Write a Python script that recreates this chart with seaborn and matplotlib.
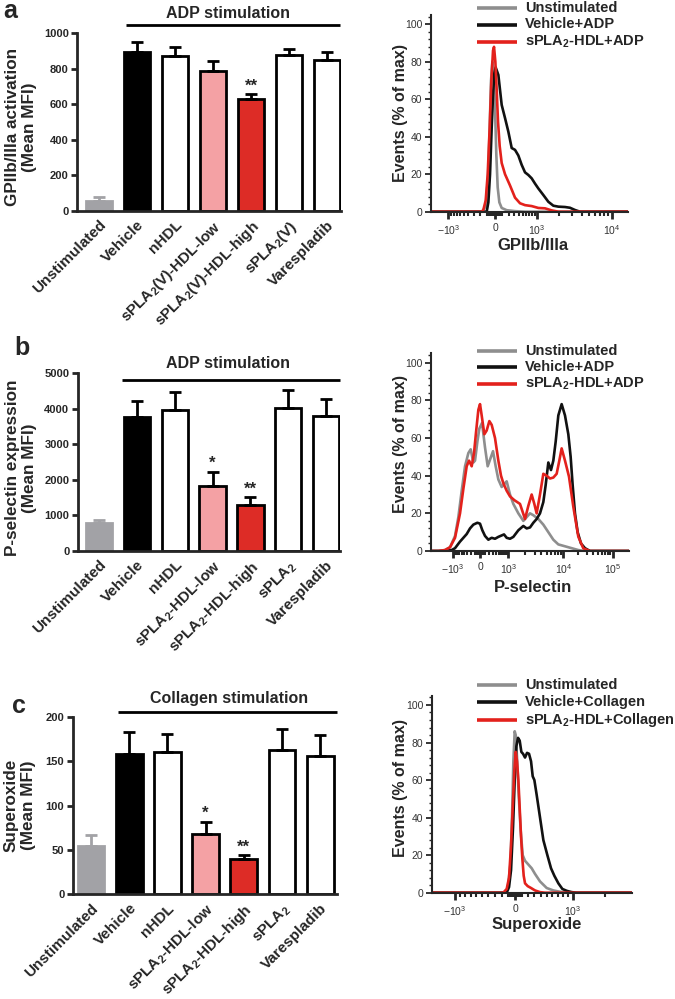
import numpy as np
import pandas as pd
import matplotlib
matplotlib.use("Agg")
import matplotlib.pyplot as plt
import seaborn as sns
from matplotlib.lines import Line2D
from matplotlib.ticker import MultipleLocator, FixedLocator

# ---------------- bar chart data ----------------
cats_a = ["Unstimulated", "Vehicle", "nHDL", r"sPLA$_\mathbf{2}$(V)-HDL-low",
          r"sPLA$_\mathbf{2}$(V)-HDL-high", r"sPLA$_\mathbf{2}$(V)", "Varespladib"]
cats_bc = ["Unstimulated", "Vehicle", "nHDL", r"sPLA$_\mathbf{2}$-HDL-low",
           r"sPLA$_\mathbf{2}$-HDL-high", r"sPLA$_\mathbf{2}$", "Varespladib"]
gp_mean = [58, 895, 868, 787, 627, 877, 846]
gp_err = [18, 57, 55, 55, 30, 31, 47]
ps_mean = [798, 3770, 3975, 1824, 1297, 4022, 3806]
ps_err = [76, 459, 499, 412, 216, 517, 470]
so_mean = [54.4, 157.6, 160, 68, 39.8, 162.5, 156]
so_err = [12.6, 25.4, 20.5, 13.7, 4.2, 23.5, 23]
sig_a = ["", "", "", "", "**", "", ""]
sig_bc = ["", "", "", "*", "**", "", ""]

bar_fill = ["#a2a2a6", "#000000", "#ffffff", "#f4a1a4", "#dd2c26", "#ffffff", "#ffffff"]
bar_edge = ["#a2a2a6", "#000000", "#000000", "#000000", "#000000", "#000000", "#000000"]

# ---------------- histogram data (x in display channels, y in % of max) ----------------
# panel a : GPIIb/IIIa
a_gray_x = [-193, -38, -28, -21, -16, -12, -8, -4, 0, 4, 8, 13, 20, 35, 60, 90, 399]
a_gray_y = [0, 0, 3, 18, 45, 70, 80, 75, 55, 30, 13, 5, 2, 0.8, 0.3, 0, 0]
a_black_x = [-193, -25, -20, -15, -10, -6, -2, 2, 10, 20, 30, 40, 50, 60, 70, 80, 90, 100,
             110, 120, 130, 145, 160, 175, 190, 210, 225, 240, 255, 399]
a_black_y = [0, 0, 5, 20, 45, 62, 74, 77, 73, 57, 50, 42.7, 34, 33, 30, 25, 21, 19.6,
             17.8, 15, 12.4, 8.9, 5.3, 3.2, 2.7, 2.5, 2.1, 0.9, 0, 0]
a_red_x = [-193, -40, -35, -28, -22, -16, -11, -6, -3, 1, 5, 9, 14, 20, 30, 45, 60, 75, 90,
           110, 130, 150, 170, 190, 399]
a_red_y = [0, 0, 1, 6, 20, 45, 70, 86, 88, 80, 65, 48, 35, 26, 20, 14, 7.5, 4.5, 3.5,
           3, 2, 1.8, 0.7, 0, 0]

# panel b : P-selectin
b_gray_x = [-148, -125, -105, -90, -75, -65, -55, -45, -35, -28, -20, -15, -8, -2, 6, 15, 23,
            31, 39, 47, 55, 65, 75, 80, 90, 100, 115, 130, 140, 150, 160, 175, 190, 205,
            220, 235, 255, 275, 295, 315, 448]
b_gray_y = [0, 0, 0.5, 2, 8, 18, 32, 45, 52, 54, 47, 48, 58, 65, 68, 55, 45,
            49, 53, 45, 38, 34, 36, 37, 30, 25, 20, 16, 18, 20, 19, 17, 14, 10,
            6, 3.5, 2.5, 1.5, 0.5, 0, 0]
b_black_x = [-148, -105, -85, -75, -60, -50, -40, -30, -20, -8, 0, 7, 15, 25, 35, 45, 55, 72,
             80, 90, 100, 115, 130, 140, 150, 160, 170, 180, 190, 197, 205, 213, 220, 227,
             235, 245, 255, 265, 272, 278, 285, 293, 303, 315, 330, 448]
b_black_y = [0, 0, 0.5, 1.5, 5, 7, 9, 12, 14, 15, 14.5, 11, 8, 6, 7, 6.5, 7.5, 8.8,
             7, 6.5, 7.5, 11, 13.3, 12, 12.5, 15, 17, 20, 26, 35, 47, 43, 48, 58,
             72, 78, 72, 62, 50, 35, 20, 10, 4, 1.5, 0, 0]
b_red_x = [-148, -125, -105, -90, -75, -60, -50, -40, -33, -25, -18, -12, -5, 0, 5, 13, 20,
           28, 35, 45, 55, 63, 70, 80, 90, 103, 120, 135, 145, 155, 163, 170, 180, 190,
           200, 210, 220, 230, 238, 245, 255, 267, 280, 295, 310, 330, 448]
b_red_y = [0, 0, 0.5, 2, 7, 20, 33, 45, 48, 45, 52, 63, 75, 78, 72, 62, 64,
           69, 67, 60, 48, 40, 36, 32, 29, 27, 25, 17, 24, 30, 25, 20, 30, 41,
           40, 38.5, 39, 41, 48, 54.5, 48, 39.5, 23.5, 7.6, 1.4, 0, 0]

# panel c : Superoxide
c_gray_x = [-250, -35, -22, -14, -9, -5, -1, 2, 6, 11, 17, 23, 30, 40, 50, 60, 75, 95,
            115, 135, 155, 350]
c_gray_y = [0, 0, 2, 15, 40, 70, 86, 84, 72, 52, 33, 20, 17, 15, 13, 10, 6, 2.5,
            1.2, 0.5, 0, 0]
c_black_x = [-250, -25, -18, -12, -6, -1, 4, 9, 14, 19, 24, 30, 36, 42, 48, 53, 58, 65,
             75, 85, 97, 108, 118, 130, 142, 155, 170, 185, 350]
c_black_y = [0, 0, 3, 12, 35, 60, 78, 82.5, 81, 75, 74, 72, 74.5, 74, 70, 62, 60, 52,
             40, 28, 20, 13, 9, 5, 2, 1, 0.3, 0, 0]
c_red_x = [-250, -35, -25, -18, -12, -7, -2, 2, 6, 10, 14, 18, 22, 26, 30, 38, 48, 60,
           75, 90, 350]
c_red_y = [0, 0, 2, 8, 25, 45, 65, 75, 70, 60, 45, 30, 18, 9, 5, 3.5, 2.5, 1.2,
           0.3, 0, 0]

# axis tick positions (display channel of each decade)
a_major = {-1000: -140, 0: 0, 1000: 125, 10000: 350}
b_major = {-1000: -82, 0: 0, 1000: 85, 10000: 250, 100000: 398}
c_major = {-1000: -180, 0: 0, 1000: 173}
major_labels = {-1000: r"$-10^{3}$", 0: "0", 1000: r"$10^{3}$",
                10000: r"$10^{4}$", 100000: r"$10^{5}$"}

leg_adp = ["Unstimulated", "Vehicle+ADP", r"sPLA$_\mathbf{2}$-HDL+ADP"]
leg_col = ["Unstimulated", "Vehicle+Collagen", r"sPLA$_\mathbf{2}$-HDL+Collagen"]

C_GRAY, C_BLACK, C_RED = "#8e8e8e", "#111111", "#e3211c"

# ---------------- style ----------------
sns.set_style("ticks")
plt.rcParams["font.family"] = ["Liberation Sans", "DejaVu Sans"]
plt.rcParams["mathtext.fontset"] = "custom"
plt.rcParams["mathtext.rm"] = "Liberation Sans"
plt.rcParams["mathtext.bf"] = "Liberation Sans:bold"
plt.rcParams["mathtext.it"] = "Liberation Sans:italic"

W, H = 675, 999
fig = plt.figure(figsize=(W / 100, H / 100), dpi=100)


def px_axes(x0, x1, ytop, ybot):
    return fig.add_axes([x0 / W, 1 - ybot / H, (x1 - x0) / W, (ybot - ytop) / H])


def ftext(x, y, s, **kw):
    fig.text(x / W, 1 - y / H, s, **kw)


def fline(x0, x1, y, lw=2, color="black"):
    fig.add_artist(Line2D([x0 / W, x1 / W], [1 - y / H, 1 - y / H],
                          color=color, lw=lw, transform=fig.transFigure,
                          solid_capstyle="butt"))


def bar_panel(ax, cats, means, errs, sig, ymax, ystep, xlim):
    df = pd.DataFrame({"cat": cats, "val": means})
    sns.barplot(data=df, x="cat", y="val", hue="cat", palette=bar_fill, legend=False,
                width=0.7, saturation=1, linewidth=2, edgecolor="black", ax=ax)
    for p, ec in zip(ax.patches, bar_edge):
        p.set_edgecolor(ec)
    for i, (m, e) in enumerate(zip(means, errs)):
        ax.errorbar(i, m, yerr=[[0], [e]], fmt="none", ecolor=bar_edge[i],
                    elinewidth=2, capsize=4, capthick=2, zorder=3)
        if sig[i]:
            ax.annotate(sig[i], (i, m + e), xytext=(0, 0.5), textcoords="offset points",
                        ha="center", va="bottom", fontsize=12, fontweight="bold")
    ax.set_xlim(*xlim)
    ax.set_ylim(0, ymax)
    ax.yaxis.set_major_locator(MultipleLocator(ystep))
    ax.set_xticks(range(len(cats)))
    ax.set_xticklabels(cats, rotation=45, ha="right", va="top", rotation_mode="anchor",
                       fontsize=11, fontweight="bold")
    ax.set_xlabel("")
    ax.set_ylabel("")
    ax.tick_params(axis="x", length=0, pad=5)
    ax.tick_params(axis="y", length=4, width=2, labelsize=8, pad=2)
    for lbl in ax.get_yticklabels():
        lbl.set_fontweight("bold")
    for s in ["top", "right"]:
        ax.spines[s].set_visible(False)
    for s in ["left", "bottom"]:
        ax.spines[s].set_linewidth(2)


def minor_positions(major, w, lo, hi, decade_w=None, max_val=None):
    pos = []
    s1 = np.arcsinh(1000 / w)
    for m in list(range(10, 100, 10)) + list(range(100, 1000, 100)):
        f = np.arcsinh(m / w) / s1
        pos.append(major[1000] * f)
        pos.append(major[-1000] * f)
    dec = sorted(v for v in major if v >= 1000)
    for d0, d1 in zip(dec[:-1], dec[1:]):
        for k in range(2, 10):
            pos.append(major[d0] + (major[d1] - major[d0]) * np.log10(k))
    if decade_w is not None:
        for k in range(2, 10):
            if max_val is None or k * dec[-1] <= max_val:
                pos.append(major[dec[-1]] + decade_w * np.log10(k))
    return [p for p in pos if lo <= p <= hi]


def hist_panel(ax, curves, major, w, xlim, labels, leg_rows, decade_w=None, max_val=None):
    for x, y, c in curves:
        sns.lineplot(x=x, y=y, color=c, lw=1.9, estimator=None, sort=False, ax=ax)
    ax.set_xlim(*xlim)
    ax.set_ylim(0, 105)
    ax.yaxis.set_major_locator(FixedLocator([0, 20, 40, 60, 80, 100]))
    ax.yaxis.set_minor_locator(MultipleLocator(4))
    vals = sorted(major)
    ax.set_xticks([major[v] for v in vals])
    ax.set_xticklabels([major_labels[v] for v in vals])
    ax.set_xticks(minor_positions(major, w, xlim[0], xlim[1], decade_w, max_val), minor=True)
    ax.set_xlabel("")
    ax.set_ylabel("")
    ax.tick_params(axis="x", which="major", length=5, width=2, labelsize=7.5,
                   labelcolor="#333333", pad=3)
    ax.tick_params(axis="x", which="minor", length=3, width=1.5)
    ax.tick_params(axis="y", which="major", length=4, width=1.3, labelsize=7.5,
                   labelcolor="#333333", pad=2)
    ax.tick_params(axis="y", which="minor", length=2.2, width=1.0)
    for s in ["top", "right"]:
        ax.spines[s].set_visible(False)
    for s in ["left", "bottom"]:
        ax.spines[s].set_linewidth(1.5)
    # legend (drawn at fixed figure positions)
    for (_, _, c), lab, yrow in zip(curves, labels, leg_rows):
        fline(476.7, 516.7, yrow, lw=2.6, color=c)
        ftext(525, yrow, lab, ha="left", va="center", fontsize=10.5, fontweight="bold")


# ---------------- bar panels ----------------
ax_a = px_axes(77, 341, 33, 211)
bar_panel(ax_a, cats_a, gp_mean, gp_err, sig_a, 1000, 200, (-0.58, 6.37))
ax_b = px_axes(77.7, 340, 373.3, 551)
bar_panel(ax_b, cats_bc, ps_mean, ps_err, sig_bc, 5000, 1000, (-0.57, 6.37))
ax_c = px_axes(72.7, 337, 716.7, 894.3)
bar_panel(ax_c, cats_bc, so_mean, so_err, sig_bc, 200, 50, (-0.48, 6.44))

# stimulation bars and titles
fline(126, 340, 25)
ftext(228, 13, "ADP stimulation", ha="center", va="center", fontsize=11.5, fontweight="bold")
fline(122, 340, 380)
ftext(228, 364, "ADP stimulation", ha="center", va="center", fontsize=11.5, fontweight="bold")
fline(118, 337, 712)
ftext(229, 698, "Collagen stimulation", ha="center", va="center", fontsize=11.5,
      fontweight="bold")

# y labels of bar panels
ftext(21, 127, "GPIIb/IIIa activation\n(Mean MFI)", rotation=90, ha="center", va="center",
      fontsize=12.3, fontweight="bold", linespacing=1.2)
ftext(21, 468, "P-selectin expression\n(Mean MFI)", rotation=90, ha="center", va="center",
      fontsize=12.3, fontweight="bold", linespacing=1.2)
ftext(20, 805, "Superoxide\n(Mean MFI)", rotation=90, ha="center", va="center",
      fontsize=12.3, fontweight="bold", linespacing=1.2)

# panel letters
ftext(10, 11, "a", ha="center", va="center", fontsize=18, fontweight="bold")
ftext(22, 348, "b", ha="center", va="center", fontsize=18, fontweight="bold")
ftext(19, 706, "c", ha="center", va="center", fontsize=18, fontweight="bold")

# ---------------- histogram panels ----------------
hx_a = px_axes(430.7, 628, 15, 211.7)
hist_panel(hx_a, [(a_gray_x, a_gray_y, C_GRAY), (a_black_x, a_black_y, C_BLACK),
                  (a_red_x, a_red_y, C_RED)], a_major, 300, (-193, 399), leg_adp,
           [8.3, 24.5, 41.5])
hx_b = px_axes(430.7, 629.3, 353.3, 551)
hist_panel(hx_b, [(b_gray_x, b_gray_y, C_GRAY), (b_black_x, b_black_y, C_BLACK),
                  (b_red_x, b_red_y, C_RED)], b_major, 300, (-148, 448), leg_adp,
           [350.7, 366.9, 383.5])
hx_c = px_axes(431.7, 631.7, 695.6, 892.7)
hist_panel(hx_c, [(c_gray_x, c_gray_y, C_GRAY), (c_black_x, c_black_y, C_BLACK),
                  (c_red_x, c_red_y, C_RED)], c_major, 1000, (-250, 350), leg_col,
           [685, 702.3, 720], decade_w=322, max_val=2000)

for y0, x0 in [(112.5, 400), (444, 400), (788, 400)]:
    ftext(x0, y0, "Events (% of max)", rotation=90, ha="center", va="center",
          fontsize=11.5, fontweight="bold")
ftext(533, 245, "GPIIb/IIIa", ha="center", va="center", fontsize=12, fontweight="bold")
ftext(533, 587, "P-selectin", ha="center", va="center", fontsize=12, fontweight="bold")
ftext(537, 924, "Superoxide", ha="center", va="center", fontsize=12, fontweight="bold")

fig.savefig("out.png", dpi=100)
